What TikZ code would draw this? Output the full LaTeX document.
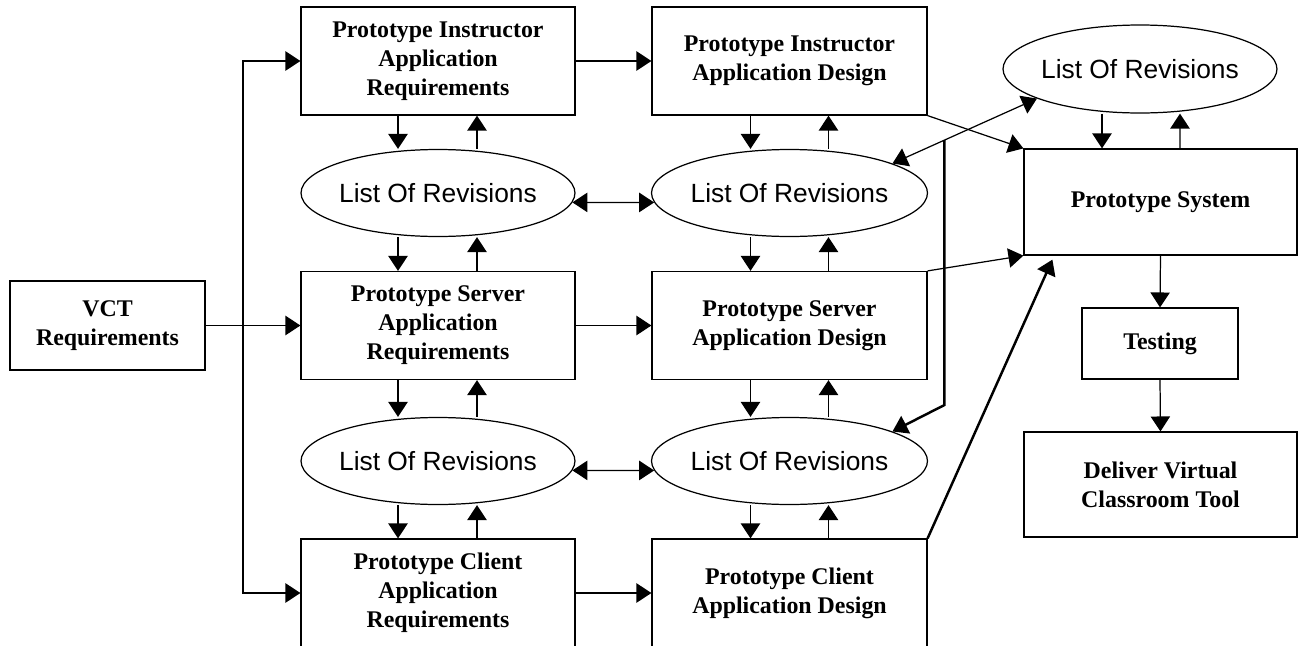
\documentclass[tikz,border=0pt]{standalone}
\usepackage{fontspec}
\setmainfont{Liberation Serif}
\newfontfamily\revfont{Liberation Sans}
\usepackage{tikz}
\usetikzlibrary{arrows.meta,calc,shapes.geometric}
\tikzstyle{arr} = [-{Triangle[width=11pt,length=8.5pt]}]
\tikzstyle{arrtwo} = [{Triangle[width=11pt,length=8.5pt]}-{Triangle[width=11pt,length=8.5pt]}]
\tikzstyle{heavy} = [line width=1.4pt]
\tikzstyle{box} = [draw, minimum width=5.48cm, minimum height=2.16cm, align=center, font=\fontsize{13.6}{16.5}\selectfont\bfseries]
\tikzstyle{rev} = [draw, ellipse, inner xsep=-3pt, minimum width=5.48cm, minimum height=1.74cm, font=\revfont\fontsize{15}{18}\selectfont]

\begin{document}
\begin{tikzpicture}[x=0.02cm, y=-0.02cm, line width=0.7pt]
\useasboundingbox (0,0) rectangle (1303,646);

% boxes, left and middle columns
\node[box, minimum width=3.9cm, minimum height=1.78cm] (vct) at (107.5,325.5) {VCT\\Requirements};
\node[box] (instReq) at (438,61) {Prototype Instructor\\Application\\Requirements};
\node[box] (srvReq) at (438,325.5) {Prototype Server\\Application\\Requirements};
\node[box] (cliReq) at (438,593) {Prototype Client\\Application\\Requirements};
\node[box, minimum width=5.5cm] (instDes) at (789.5,61) {Prototype Instructor\\Application Design};
\node[box, minimum width=5.5cm] (srvDes) at (789.5,325.5) {Prototype Server\\Application Design};
\node[box, minimum width=5.5cm] (cliDes) at (789.5,593) {Prototype Client\\Application Design};

% revision lists
\node[rev] (revA) at (438,193) {List Of Revisions};
\node[rev] (revB) at (438,461) {List Of Revisions};
\node[rev, minimum width=5.52cm] (revC) at (789.5,193) {List Of Revisions};
\node[rev, minimum width=5.52cm] (revD) at (789.5,461) {List Of Revisions};
\node[rev, minimum height=1.76cm] (revE) at (1140,69) {List Of Revisions};

% right column
\node[box, minimum width=5.46cm, minimum height=2.12cm] (sys) at (1160.5,202) {Prototype System};
\node[box, minimum width=3.12cm, minimum height=1.42cm] (test) at (1160,343.5) {Testing};
\node[box, minimum width=5.46cm, minimum height=2.1cm] (deliv) at (1160.5,484.5) {Deliver Virtual\\Classroom Tool};

% from VCT requirements
\coordinate (trunk) at (243,325.5);
\draw[arr] (vct.east) -- (srvReq.west);
\draw[arr] (trunk) |- (instReq.west);
\draw[arr] (trunk) |- (cliReq.west);

\draw[arr] (instReq.east) -- (instDes.west);
\draw[arr] (srvReq.east) -- (srvDes.west);
\draw[arr] (cliReq.east) -- (cliDes.west);

% left column up and down
\draw[arr] ($(instReq.south)+(-40,0)$) -- ($(revA.north)+(-40,0)$);
\draw[arr] ($(revA.north)+(39,0)$) -- ($(instReq.south)+(39,0)$);
\draw[arr] ($(revA.south)+(-40,0)$) -- ($(srvReq.north)+(-40,0)$);
\draw[arr] ($(srvReq.north)+(39,0)$) -- ($(revA.south)+(39,0)$);
\draw[arr] ($(srvReq.south)+(-40,0)$) -- ($(revB.north)+(-40,0)$);
\draw[arr] ($(revB.north)+(39,0)$) -- ($(srvReq.south)+(39,0)$);
\draw[arr] ($(revB.south)+(-40,0)$) -- ($(cliReq.north)+(-40,0)$);
\draw[arr] ($(cliReq.north)+(39,0)$) -- ($(revB.south)+(39,0)$);

% middle column up and down
\draw[arr] ($(instDes.south)+(-39,0)$) -- ($(revC.north)+(-39,0)$);
\draw[arr] ($(revC.north)+(39,0)$) -- ($(instDes.south)+(39,0)$);
\draw[arr] ($(revC.south)+(-39,0)$) -- ($(srvDes.north)+(-39,0)$);
\draw[arr] ($(srvDes.north)+(39,0)$) -- ($(revC.south)+(39,0)$);
\draw[arr] ($(srvDes.south)+(-39,0)$) -- ($(revD.north)+(-39,0)$);
\draw[arr] ($(revD.north)+(39,0)$) -- ($(srvDes.south)+(39,0)$);
\draw[arr] ($(revD.south)+(-39,0)$) -- ($(cliDes.north)+(-39,0)$);
\draw[arr] ($(cliDes.north)+(39,0)$) -- ($(revD.south)+(39,0)$);

% between the lists
\draw[arrtwo] (revA.-4) -- (revC.184);
\draw[arrtwo] (revB.-4) -- (revD.184);
\draw[arrtwo] (revC.16) -- (revE.196);

% into the prototype system
\draw[arr] ($(revE.south)+(-38,0)$) -- ($(sys.north)+(-58.5,0)$);
\draw[arr] ($(sys.north)+(19.5,0)$) -- ($(revE.south)+(40,0)$);
\draw[arr] (instDes.south east) -- (sys.north west);
\draw[arr] (srvDes.north east) -- (sys.south west);
\coordinate (sysin) at ($(sys.south west)+(29,4)$);
\draw[arr, heavy] (cliDes.north east) -- (sysin);

\coordinate (split) at ($(revC.16)!0.36!(revE.196)$);
\coordinate (bend) at (943,405);
\draw[arr, heavy] (split) -- (split |- bend) -- (revD.16);

\draw[arr] (sys.south) -- (test.north);
\draw[arr] (test.south) -- (deliv.north);
\end{tikzpicture}
\end{document}
